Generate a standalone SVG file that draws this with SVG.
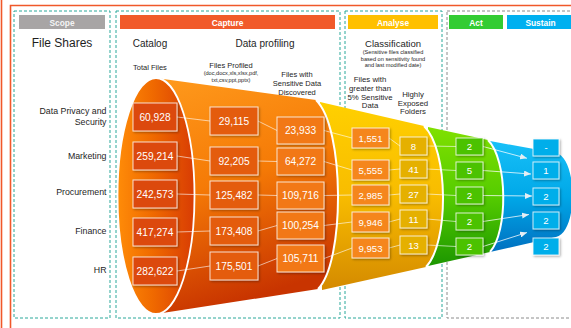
<svg xmlns="http://www.w3.org/2000/svg" width="571" height="328" viewBox="0 0 571 328">
<style>
.frame{fill:none;stroke:#f0582a;stroke-width:1.6}
.dash{fill:none;stroke:#2aa89a;stroke-width:1;stroke-dasharray:3 2}
.dashg{fill:none;stroke:#8c8c8c;stroke-width:1;stroke-dasharray:3 2}
.hd{font-family:"Liberation Sans",Arial,sans-serif;font-weight:bold;font-size:8.4px;fill:#fff;text-anchor:middle}
.t{font-family:"Liberation Sans",Arial,sans-serif;fill:#1e1e1e;text-anchor:middle}
.lbl{font-family:"Liberation Sans",Arial,sans-serif;font-size:8.8px;fill:#1e1e1e;text-anchor:end}
.edge{fill:none;stroke:#fff;stroke-width:2}
.box rect{stroke:#fff;stroke-opacity:0.8;stroke-width:1;filter:url(#sh)}
.box text{font-family:"Liberation Sans",Arial,sans-serif;fill:#fff;text-anchor:middle}
.big text{font-size:10.2px}
.sm text{font-size:9.6px}
.c1 rect{fill:#dc4a0e}
.c2 rect{fill:#e45c0c}
.c3 rect{fill:#f27812}
.c4 rect{fill:#f5861e}
.c5 rect{fill:#e5b000}
.c6 rect{fill:#4cc200}
.c7 rect{fill:#00aeea}
#connectors line{stroke:#fff;stroke-opacity:0.6;stroke-width:1}
#connectors .arr{marker-end:url(#ah);stroke-opacity:0.75}
</style>
<defs>
<linearGradient id="gOrange" x1="0" y1="0" x2="0.25" y2="1">
<stop offset="0" stop-color="#ff9a1c"/>
<stop offset="0.5" stop-color="#f57a06"/>
<stop offset="1" stop-color="#c83400"/>
</linearGradient>
<linearGradient id="gOrangeEll" x1="0" y1="0" x2="1" y2="0">
<stop offset="0" stop-color="#ff8c08"/>
<stop offset="0.45" stop-color="#f06a00"/>
<stop offset="1" stop-color="#d83c04"/>
</linearGradient>
<linearGradient id="gYellow" x1="0" y1="0" x2="0" y2="1">
<stop offset="0" stop-color="#ffd000"/>
<stop offset="0.5" stop-color="#f8bc00"/>
<stop offset="1" stop-color="#d48a00"/>
</linearGradient>
<linearGradient id="gGreen" x1="0" y1="0" x2="0" y2="1">
<stop offset="0" stop-color="#80e000"/>
<stop offset="0.5" stop-color="#55cc00"/>
<stop offset="1" stop-color="#1c9600"/>
</linearGradient>
<linearGradient id="gBlue" x1="0" y1="0" x2="0" y2="1">
<stop offset="0" stop-color="#18c0f8"/>
<stop offset="0.5" stop-color="#00a8e8"/>
<stop offset="1" stop-color="#0070c0"/>
</linearGradient>
<filter id="sh" x="-20%" y="-20%" width="150%" height="170%">
<feDropShadow dx="1.2" dy="1.2" stdDeviation="0.8" flood-color="#000" flood-opacity="0.35"/>
</filter>
<marker id="ah" markerUnits="userSpaceOnUse" markerWidth="7" markerHeight="6" refX="7" refY="3" orient="auto">
<path d="M0,0 L7,3 L0,6 Z" fill="#e6eef4"/>
</marker>
</defs>

<g id="frame">
<line class="frame" x1="1.5" y1="0" x2="1.5" y2="328"/>
<path class="frame" d="M10.5,328 V5.5 H571"/>
</g>

<g id="panels">
<rect class="dash" x="14" y="11" width="96" height="307"/>
<rect class="dash" x="116" y="11" width="224" height="307"/>
<rect class="dash" x="345" y="11" width="97" height="307"/>
<rect class="dashg" x="447" y="11" width="130" height="307"/>
<rect x="19" y="15" width="86" height="14" fill="#a8a5a5"/>
<text class="hd" x="62" y="25.5" fill-opacity="0.9">Scope</text>
<rect x="120" y="15" width="215" height="14" fill="#f15a2a"/>
<text class="hd" x="227.5" y="25.5">Capture</text>
<rect x="348" y="15" width="90" height="14" fill="#ffc000"/>
<text class="hd" x="393" y="25.5">Analyse</text>
<rect x="449" y="15" width="54" height="14" fill="#33cc33"/>
<text class="hd" x="476" y="25.5">Act</text>
<rect x="507" y="15" width="70" height="14" fill="#00b0f0"/>
<text class="hd" x="540.5" y="25.5">Sustain</text>
</g>

<g id="titles">
<text class="t" x="62" y="47" font-size="12">File Shares</text>
<text class="t" x="150" y="47" font-size="10">Catalog</text>
<text class="t" x="265" y="47" font-size="10">Data profiling</text>
<text class="t" x="150" y="69.5" font-size="7.5">Total Files</text>
<text class="t" x="231" y="68" font-size="7.5">Files Profiled</text>
<text class="t" x="231" y="74.5" font-size="5.6">(doc,docx,xls,xlsx,pdf,</text>
<text class="t" x="231" y="82" font-size="5.6">txt,csv,ppt,pptx)</text>
<text class="t" x="297" y="76.5" font-size="7.5">Files with</text>
<text class="t" x="297" y="85.5" font-size="7.5">Sensitive Data</text>
<text class="t" x="297" y="94.5" font-size="7.5">Discovered</text>
<text class="t" x="393" y="46.5" font-size="9.5">Classification</text>
<text class="t" x="393" y="54" font-size="5.6">(Sensitive files classified</text>
<text class="t" x="393" y="60.5" font-size="5.6">based on sensitivity found</text>
<text class="t" x="393" y="67.2" font-size="5.6">and last modified date)</text>
<text class="t" x="370" y="82.3" font-size="7.8">Files with</text>
<text class="t" x="370" y="90.9" font-size="7.8">greater than</text>
<text class="t" x="370" y="99.5" font-size="7.8">5% Sensitive</text>
<text class="t" x="370" y="108.1" font-size="7.8">Data</text>
<text class="t" x="413" y="97.3" font-size="7.8">Highly</text>
<text class="t" x="413" y="105.6" font-size="7.8">Exposed</text>
<text class="t" x="413" y="113.9" font-size="7.8">Folders</text>
<text class="lbl" x="106.5" y="114.3">Data Privacy and</text>
<text class="lbl" x="106.5" y="125">Security</text>
<text class="lbl" x="106.5" y="159">Marketing</text>
<text class="lbl" x="106.5" y="195">Procurement</text>
<text class="lbl" x="106.5" y="234">Finance</text>
<text class="lbl" x="106.5" y="273.3">HR</text>
</g>

<g id="funnel">
<path d="M490,141 L556,153 C578,158 578,233 556,237 L490,252 Z" fill="url(#gBlue)"/>
<path d="M428,127 L488,140 C508,160 508,232 490,252 L428,266 Z" fill="url(#gGreen)"/>
<path class="edge" d="M488,140 C508,160 508,232 490,252"/>
<path d="M320,102 L424,126 C449,150 449,243 426,267 L322,290 Z" fill="url(#gYellow)"/>
<path class="edge" d="M424,126 C449,150 449,243 426,267"/>
<path d="M156,78 L316,100 C345,128 345,262 318,289 L156,314 Z" fill="url(#gOrange)"/>
<path class="edge" d="M316,100 C345,128 345,262 318,289"/>
<ellipse cx="156" cy="196" rx="38.5" ry="118" fill="url(#gOrangeEll)" stroke="#fff" stroke-width="1.8"/>
</g>

<g id="connectors">
<line x1="177" y1="117" x2="210" y2="121"/>
<line x1="258" y1="121" x2="277" y2="130.5"/>
<line x1="324" y1="130.5" x2="352" y2="138"/>
<line x1="389" y1="138" x2="400" y2="146"/>
<line x1="427" y1="146" x2="456" y2="146.5"/>
<line class="arr" x1="483" y1="146.5" x2="527" y2="158.3"/>
<line x1="177" y1="156" x2="210" y2="161"/>
<line x1="258" y1="161" x2="277" y2="161.5"/>
<line x1="324" y1="161.5" x2="352" y2="170"/>
<line x1="389" y1="170" x2="400" y2="169"/>
<line x1="427" y1="169" x2="456" y2="170.5"/>
<line class="arr" x1="483" y1="170.5" x2="531" y2="174"/>
<line x1="177" y1="194" x2="210" y2="195"/>
<line x1="258" y1="195" x2="277" y2="195.5"/>
<line x1="324" y1="195.5" x2="352" y2="195"/>
<line x1="389" y1="195" x2="400" y2="194"/>
<line x1="427" y1="194" x2="456" y2="195.5"/>
<line class="arr" x1="483" y1="195.5" x2="532" y2="196"/>
<line x1="177" y1="232" x2="210" y2="231"/>
<line x1="258" y1="231" x2="277" y2="225.5"/>
<line x1="324" y1="225.5" x2="352" y2="222"/>
<line x1="389" y1="222" x2="400" y2="219"/>
<line x1="427" y1="219" x2="456" y2="221.5"/>
<line class="arr" x1="483" y1="221.5" x2="529" y2="214.5"/>
<line x1="177" y1="271" x2="210" y2="266"/>
<line x1="258" y1="266" x2="277" y2="258.5"/>
<line x1="324" y1="258.5" x2="352" y2="248"/>
<line x1="389" y1="248" x2="400" y2="245"/>
<line x1="427" y1="245" x2="456" y2="246.5"/>
<line class="arr" x1="483" y1="246.5" x2="527" y2="232.5"/>
</g>

<g id="n-total-dps" class="box big c1"><rect x="133" y="103" width="44" height="28"/><text x="155" y="120.7">60,928</text></g>
<g id="n-total-mkt" class="box big c1"><rect x="133" y="142" width="44" height="28"/><text x="155" y="159.7">259,214</text></g>
<g id="n-total-proc" class="box big c1"><rect x="133" y="180" width="44" height="28"/><text x="155" y="197.7">242,573</text></g>
<g id="n-total-fin" class="box big c1"><rect x="133" y="218" width="44" height="28"/><text x="155" y="235.7">417,274</text></g>
<g id="n-total-hr" class="box big c1"><rect x="133" y="257" width="44" height="28"/><text x="155" y="274.7">282,622</text></g>

<g id="n-prof-dps" class="box big c2"><rect x="210" y="107" width="48" height="28"/><text x="234" y="124.7">29,115</text></g>
<g id="n-prof-mkt" class="box big c2"><rect x="210" y="147" width="48" height="28"/><text x="234" y="164.7">92,205</text></g>
<g id="n-prof-proc" class="box big c2"><rect x="210" y="181" width="48" height="28"/><text x="234" y="198.7">125,482</text></g>
<g id="n-prof-fin" class="box big c2"><rect x="210" y="217" width="48" height="28"/><text x="234" y="234.7">173,408</text></g>
<g id="n-prof-hr" class="box big c2"><rect x="210" y="252" width="48" height="28"/><text x="234" y="269.7">175,501</text></g>

<g id="n-sens-dps" class="box big c3"><rect x="277" y="117" width="47" height="27"/><text x="300.5" y="134.2">23,933</text></g>
<g id="n-sens-mkt" class="box big c3"><rect x="277" y="148" width="47" height="27"/><text x="300.5" y="165.2">64,272</text></g>
<g id="n-sens-proc" class="box big c3"><rect x="277" y="182" width="47" height="27"/><text x="300.5" y="199.2">109,716</text></g>
<g id="n-sens-fin" class="box big c3"><rect x="277" y="212" width="47" height="27"/><text x="300.5" y="229.2">100,254</text></g>
<g id="n-sens-hr" class="box big c3"><rect x="277" y="245" width="47" height="27"/><text x="300.5" y="262.2">105,711</text></g>

<g id="n-gt5-dps" class="box sm c4"><rect x="352" y="128" width="37" height="20"/><text x="370.5" y="141.5">1,551</text></g>
<g id="n-gt5-mkt" class="box sm c4"><rect x="352" y="160" width="37" height="20"/><text x="370.5" y="173.5">5,555</text></g>
<g id="n-gt5-proc" class="box sm c4"><rect x="352" y="185" width="37" height="20"/><text x="370.5" y="198.5">2,985</text></g>
<g id="n-gt5-fin" class="box sm c4"><rect x="352" y="212" width="37" height="20"/><text x="370.5" y="225.5">9,946</text></g>
<g id="n-gt5-hr" class="box sm c4"><rect x="352" y="238" width="37" height="20"/><text x="370.5" y="251.5">9,953</text></g>

<g id="n-exp-dps" class="box sm c5"><rect x="400" y="137" width="27" height="18"/><text x="413.5" y="149.5">8</text></g>
<g id="n-exp-mkt" class="box sm c5"><rect x="400" y="160" width="27" height="18"/><text x="413.5" y="172.5">41</text></g>
<g id="n-exp-proc" class="box sm c5"><rect x="400" y="185" width="27" height="18"/><text x="413.5" y="197.5">27</text></g>
<g id="n-exp-fin" class="box sm c5"><rect x="400" y="210" width="27" height="18"/><text x="413.5" y="222.5">11</text></g>
<g id="n-exp-hr" class="box sm c5"><rect x="400" y="236" width="27" height="18"/><text x="413.5" y="248.5">13</text></g>

<g id="n-act-dps" class="box sm c6"><rect x="456" y="138" width="27" height="17"/><text x="469.5" y="150">2</text></g>
<g id="n-act-mkt" class="box sm c6"><rect x="456" y="162" width="27" height="17"/><text x="469.5" y="174">5</text></g>
<g id="n-act-proc" class="box sm c6"><rect x="456" y="187" width="27" height="17"/><text x="469.5" y="199">2</text></g>
<g id="n-act-fin" class="box sm c6"><rect x="456" y="213" width="27" height="17"/><text x="469.5" y="225">2</text></g>
<g id="n-act-hr" class="box sm c6"><rect x="456" y="238" width="27" height="17"/><text x="469.5" y="250">2</text></g>

<g id="n-sus-dps" class="box sm c7"><rect x="533" y="139" width="26" height="17"/><text x="546" y="151">-</text></g>
<g id="n-sus-mkt" class="box sm c7"><rect x="533" y="162" width="26" height="17"/><text x="546" y="174">1</text></g>
<g id="n-sus-proc" class="box sm c7"><rect x="533" y="188" width="26" height="17"/><text x="546" y="200">2</text></g>
<g id="n-sus-fin" class="box sm c7"><rect x="533" y="212" width="26" height="17"/><text x="546" y="224">2</text></g>
<g id="n-sus-hr" class="box sm c7"><rect x="533" y="238" width="26" height="17"/><text x="546" y="250">2</text></g>
</svg>
